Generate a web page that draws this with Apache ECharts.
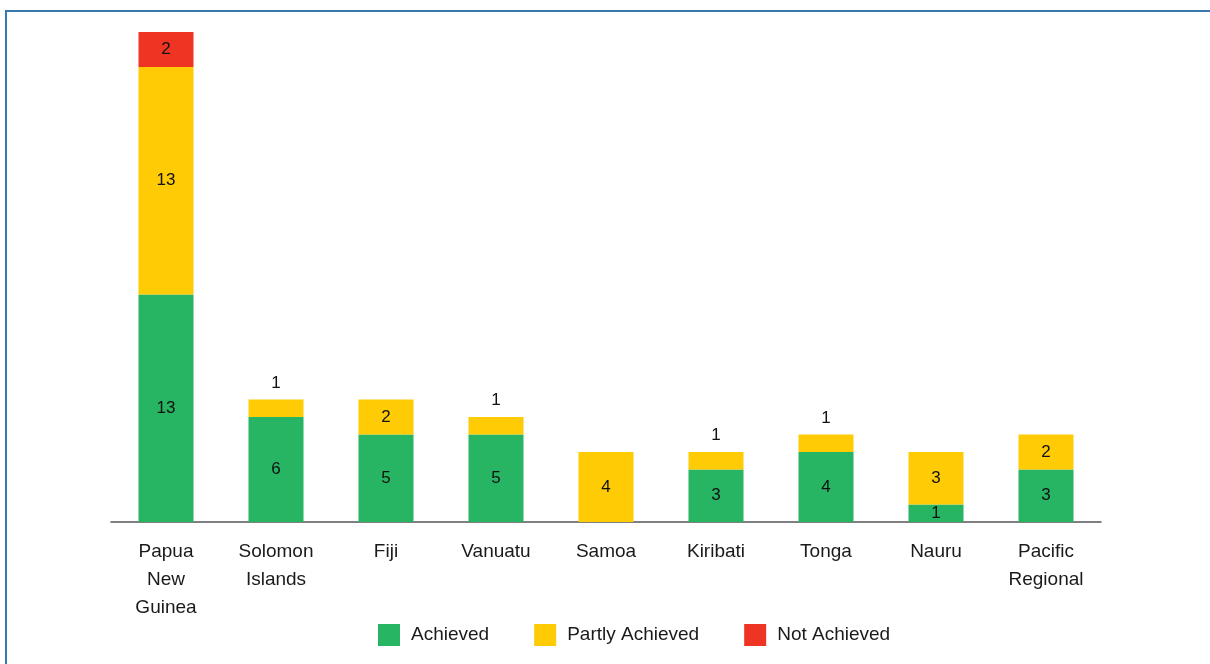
<!DOCTYPE html>
<html>
<head>
<meta charset="utf-8">
<script src="https://cdn.jsdelivr.net/npm/echarts@6/dist/echarts.min.js"></script>
<style>
  html, body { margin: 0; padding: 0; background: #fff; }
  #chart { width: 1210px; height: 664px; }
</style>
</head>
<body>
<div id="chart"></div>
<script>
// data
const countries = ['Papua\nNew\nGuinea', 'Solomon\nIslands', 'Fiji', 'Vanuatu', 'Samoa', 'Kiribati', 'Tonga', 'Nauru', 'Pacific\nRegional'];
const achieved = [13, 6, 5, 5, 0, 3, 4, 1, 3];
const partlyAchieved = [13, 1, 2, 1, 4, 1, 1, 3, 2];
const notAchieved = [2, 0, 0, 0, 0, 0, 0, 0, 0];

const FONT = '"Liberation Sans", Arial, sans-serif';

let myChart = echarts.init(document.getElementById('chart'));

const hideZero = p => (p.value ? String(p.value) : '');

// small partly-achieved segments get their number above the bar
const partlyData = partlyAchieved.map(v => (
  v === 1 ? { value: v, label: { position: 'top', distance: 8 } } : v
));

const baseLabel = {
  show: true,
  position: 'inside',
  color: '#111',
  fontSize: 17,
  fontFamily: FONT,
  formatter: hideZero
};

let option = {
  animation: false,
  textStyle: { fontFamily: FONT },
  graphic: [{
    type: 'rect',
    shape: { x: 6, y: 11, width: 1210, height: 700 },
    style: { fill: 'none', stroke: '#3a78b0', lineWidth: 2 },
    silent: true
  }],
  grid: { left: 111, right: 109, top: 32, bottom: 142 },
  legend: {
    left: 373,
    top: 619,
    itemWidth: 22,
    itemHeight: 22,
    itemGap: 45,
    icon: 'rect',
    textStyle: { fontSize: 19, color: '#1a1a1a', fontFamily: FONT, padding: [0, 0, 0, 6] },
    data: ['Achieved', 'Partly Achieved', 'Not Achieved']
  },
  xAxis: {
    type: 'category',
    data: countries,
    axisLine: { lineStyle: { color: '#555', width: 1.5 } },
    axisTick: { show: false },
    axisLabel: {
      color: '#1a1a1a',
      fontSize: 19,
      lineHeight: 28,
      margin: 16,
      interval: 0,
      fontFamily: FONT
    }
  },
  yAxis: {
    type: 'value',
    min: 0,
    max: 28,
    show: false,
    splitLine: { show: false }
  },
  series: [
    {
      name: 'Achieved', type: 'bar', stack: 'total', barWidth: 55,
      itemStyle: { color: '#27b463' },
      label: baseLabel,
      data: achieved
    },
    {
      name: 'Partly Achieved', type: 'bar', stack: 'total', barWidth: 55,
      itemStyle: { color: '#ffcb05' },
      label: baseLabel,
      data: partlyData
    },
    {
      name: 'Not Achieved', type: 'bar', stack: 'total', barWidth: 55,
      itemStyle: { color: '#ee3524' },
      label: baseLabel,
      data: notAchieved
    }
  ]
};

option && myChart.setOption(option);
</script>
</body>
</html>
